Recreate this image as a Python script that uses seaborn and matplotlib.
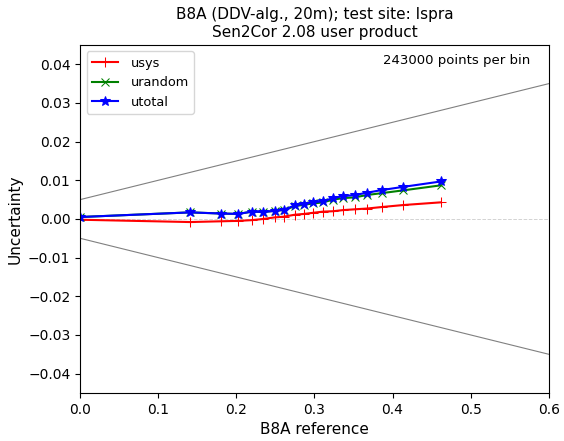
import matplotlib
matplotlib.use("Agg")
import matplotlib.pyplot as plt
import seaborn as sns
import numpy as np
import pandas as pd

x_ref = [0.0, 0.141, 0.181, 0.2025, 0.220, 0.2345, 0.249, 0.261, 0.275, 0.2866,
         0.2985, 0.311, 0.324, 0.337, 0.352, 0.3675, 0.387, 0.4137, 0.462]
usys = [-0.0002, -0.0008, -0.0006, -0.0005, -0.0003, 0.0000, 0.0004, 0.0006, 0.0011, 0.0013,
        0.0016, 0.0019, 0.0020, 0.0023, 0.0025, 0.0027, 0.0031, 0.0036, 0.0043]
urandom = [0.0005, 0.0017, 0.0014, 0.0013, 0.0019, 0.0018, 0.0021, 0.0023, 0.0033, 0.0037,
           0.0040, 0.0043, 0.0050, 0.0054, 0.0056, 0.0062, 0.0067, 0.0074, 0.0087]
utotal = [0.0005, 0.0017, 0.0014, 0.0013, 0.0019, 0.0018, 0.0021, 0.0024, 0.0035, 0.0039,
          0.0043, 0.0046, 0.0054, 0.0059, 0.0062, 0.0068, 0.0075, 0.0083, 0.0097]

req_x = [0.0, 0.6]
req_upper = [0.005, 0.035]
req_lower = [-0.005, -0.035]

fig = plt.figure(figsize=(5.64, 4.41), dpi=100)
ax = fig.add_axes([0.142, 0.109, 0.831, 0.789])

ax.plot(req_x, req_upper, color="gray", lw=0.8)
ax.plot(req_x, req_lower, color="gray", lw=0.8)
ax.axhline(0, color="lightgray", lw=0.7, ls="--")

df = pd.DataFrame({"x": x_ref, "usys": usys, "urandom": urandom, "utotal": utotal})
sns.lineplot(data=df, x="x", y="usys", ax=ax, color="red", marker="+", markersize=7,
             markeredgecolor="red", label="usys", lw=1.5)
sns.lineplot(data=df, x="x", y="urandom", ax=ax, color="green", marker="x", markersize=6,
             markeredgecolor="green", label="urandom", lw=1.5)
sns.lineplot(data=df, x="x", y="utotal", ax=ax, color="blue", marker="*", markersize=7,
             markeredgecolor="blue", label="utotal", lw=1.5)

ax.set_xlim(0, 0.6)
ax.set_ylim(-0.045, 0.045)
ax.set_xticks([0.0, 0.1, 0.2, 0.3, 0.4, 0.5, 0.6])
ax.set_yticks([-0.04, -0.03, -0.02, -0.01, 0.0, 0.01, 0.02, 0.03, 0.04])
ax.set_xlabel("B8A reference", fontsize=11)
ax.set_ylabel("Uncertainty", fontsize=11)
ax.set_title("B8A (DDV-alg., 20m); test site: Ispra\nSen2Cor 2.08 user product", fontsize=11)
ax.text(0.96, 0.955, "243000 points per bin", transform=ax.transAxes, ha="right", va="center", fontsize=9.5)
ax.legend(loc="upper left", fontsize=9.3, handletextpad=1.0)

fig.savefig("out.png", dpi=100)
